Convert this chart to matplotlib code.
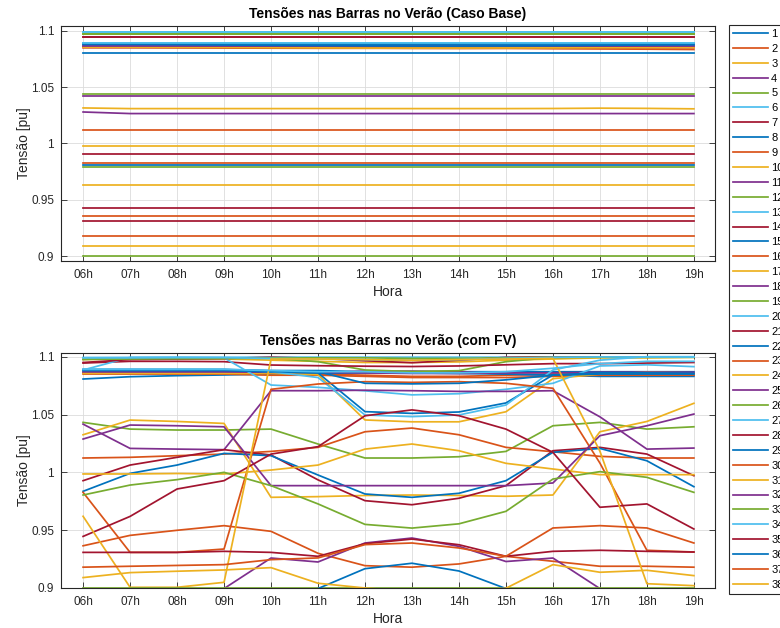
import matplotlib.pyplot as plt

plt.rcParams['font.family'] = ['Liberation Sans', 'DejaVu Sans']

# horas do dia e barras
hours = ['06h', '07h', '08h', '09h', '10h', '11h', '12h',
         '13h', '14h', '15h', '16h', '17h', '18h', '19h']
buses = [str(i) for i in range(1, 39)]
yticks = [0.9, 0.95, 1.0, 1.05, 1.1]
ytick_labels = ['0.9', '0.95', '1', '1.05', '1.1']

# tensoes [pu] - caso base (uma linha por barra)
v_base = [
    [1.0890, 1.0890, 1.0889, 1.0888, 1.0887, 1.0886, 1.0885, 1.0885, 1.0885, 1.0886, 1.0887, 1.0888, 1.0888, 1.0888],
    [1.0860, 1.0860, 1.0858, 1.0855, 1.0852, 1.0850, 1.0848, 1.0846, 1.0845, 1.0845, 1.0842, 1.0840, 1.0838, 1.0835],
    [1.0976, 1.0976, 1.0976, 1.0976, 1.0976, 1.0976, 1.0975, 1.0975, 1.0975, 1.0975, 1.0976, 1.0976, 1.0976, 1.0976],
    [1.0865, 1.0865, 1.0864, 1.0863, 1.0862, 1.0860, 1.0860, 1.0860, 1.0860, 1.0861, 1.0862, 1.0863, 1.0864, 1.0865],
    [1.0977, 1.0977, 1.0977, 1.0977, 1.0977, 1.0977, 1.0977, 1.0977, 1.0977, 1.0977, 1.0977, 1.0977, 1.0977, 1.0977],
    [1.0993, 1.0993, 1.0993, 1.0993, 1.0993, 1.0993, 1.0993, 1.0993, 1.0993, 1.0993, 1.0993, 1.0993, 1.0993, 1.0993],
    [1.0950, 1.0950, 1.0950, 1.0950, 1.0950, 1.0950, 1.0950, 1.0950, 1.0950, 1.0950, 1.0950, 1.0950, 1.0950, 1.0950],
    [1.0807, 1.0807, 1.0807, 1.0807, 1.0807, 1.0807, 1.0807, 1.0807, 1.0807, 1.0807, 1.0807, 1.0807, 1.0807, 1.0807],
    [1.0850, 1.0850, 1.0849, 1.0848, 1.0847, 1.0846, 1.0846, 1.0846, 1.0846, 1.0847, 1.0848, 1.0849, 1.0850, 1.0850],
    [1.0856, 1.0856, 1.0855, 1.0854, 1.0852, 1.0850, 1.0848, 1.0848, 1.0848, 1.0849, 1.0850, 1.0852, 1.0853, 1.0854],
    [1.0870, 1.0870, 1.0870, 1.0870, 1.0870, 1.0870, 1.0870, 1.0870, 1.0870, 1.0870, 1.0870, 1.0870, 1.0870, 1.0870],
    [1.0440, 1.0440, 1.0440, 1.0440, 1.0440, 1.0440, 1.0440, 1.0440, 1.0440, 1.0440, 1.0440, 1.0440, 1.0440, 1.0440],
    [1.0893, 1.0893, 1.0893, 1.0893, 1.0893, 1.0893, 1.0893, 1.0893, 1.0893, 1.0893, 1.0893, 1.0893, 1.0893, 1.0893],
    [1.0950, 1.0950, 1.0950, 1.0950, 1.0950, 1.0950, 1.0950, 1.0950, 1.0950, 1.0950, 1.0950, 1.0950, 1.0950, 1.0950],
    [1.0880, 1.0880, 1.0878, 1.0875, 1.0872, 1.0870, 1.0868, 1.0866, 1.0866, 1.0867, 1.0869, 1.0872, 1.0875, 1.0877],
    [1.0117, 1.0117, 1.0117, 1.0117, 1.0117, 1.0117, 1.0117, 1.0117, 1.0117, 1.0117, 1.0117, 1.0117, 1.0117, 1.0117],
    [1.0316, 1.0310, 1.0310, 1.0310, 1.0310, 1.0310, 1.0310, 1.0310, 1.0310, 1.0310, 1.0311, 1.0314, 1.0312, 1.0308],
    [1.0420, 1.0420, 1.0420, 1.0420, 1.0420, 1.0420, 1.0420, 1.0420, 1.0420, 1.0420, 1.0420, 1.0420, 1.0420, 1.0420],
    [1.0977, 1.0977, 1.0977, 1.0977, 1.0977, 1.0977, 1.0977, 1.0977, 1.0977, 1.0977, 1.0977, 1.0977, 1.0977, 1.0977],
    [1.0890, 1.0890, 1.0890, 1.0890, 1.0890, 1.0890, 1.0890, 1.0890, 1.0890, 1.0890, 1.0890, 1.0890, 1.0890, 1.0890],
    [0.9910, 0.9910, 0.9910, 0.9910, 0.9910, 0.9910, 0.9910, 0.9910, 0.9910, 0.9910, 0.9910, 0.9910, 0.9910, 0.9910],
    [0.9810, 0.9810, 0.9810, 0.9810, 0.9810, 0.9810, 0.9810, 0.9810, 0.9810, 0.9810, 0.9810, 0.9810, 0.9810, 0.9810],
    [0.9830, 0.9830, 0.9830, 0.9830, 0.9830, 0.9830, 0.9830, 0.9830, 0.9830, 0.9830, 0.9830, 0.9830, 0.9830, 0.9830],
    [0.9978, 0.9978, 0.9978, 0.9978, 0.9978, 0.9978, 0.9978, 0.9978, 0.9978, 0.9978, 0.9978, 0.9978, 0.9978, 0.9978],
    [1.0280, 1.0266, 1.0266, 1.0266, 1.0266, 1.0266, 1.0266, 1.0266, 1.0266, 1.0266, 1.0266, 1.0266, 1.0266, 1.0266],
    [0.9790, 0.9790, 0.9790, 0.9790, 0.9790, 0.9790, 0.9790, 0.9790, 0.9790, 0.9790, 0.9790, 0.9790, 0.9790, 0.9790],
    [1.0990, 1.0990, 1.0990, 1.0990, 1.0990, 1.0990, 1.0990, 1.0990, 1.0990, 1.0990, 1.0990, 1.0990, 1.0990, 1.0990],
    [0.9430, 0.9430, 0.9430, 0.9430, 0.9430, 0.9430, 0.9430, 0.9430, 0.9430, 0.9430, 0.9430, 0.9430, 0.9430, 0.9430],
    [1.0885, 1.0885, 1.0885, 1.0885, 1.0885, 1.0885, 1.0885, 1.0885, 1.0885, 1.0885, 1.0885, 1.0885, 1.0885, 1.0885],
    [0.9360, 0.9360, 0.9360, 0.9360, 0.9360, 0.9360, 0.9360, 0.9360, 0.9360, 0.9360, 0.9360, 0.9360, 0.9360, 0.9360],
    [0.9630, 0.9630, 0.9630, 0.9630, 0.9630, 0.9630, 0.9630, 0.9630, 0.9630, 0.9630, 0.9630, 0.9630, 0.9630, 0.9630],
    [0.8850, 0.8850, 0.8850, 0.8850, 0.8850, 0.8850, 0.8850, 0.8850, 0.8850, 0.8850, 0.8850, 0.8850, 0.8850, 0.8850],
    [0.9000, 0.9000, 0.9000, 0.9000, 0.9000, 0.9000, 0.9000, 0.9000, 0.9000, 0.9000, 0.9000, 0.9000, 0.9000, 0.9000],
    [1.0890, 1.0890, 1.0890, 1.0890, 1.0890, 1.0890, 1.0890, 1.0890, 1.0890, 1.0890, 1.0890, 1.0890, 1.0890, 1.0890],
    [0.9310, 0.9310, 0.9310, 0.9310, 0.9310, 0.9310, 0.9310, 0.9310, 0.9310, 0.9310, 0.9310, 0.9310, 0.9310, 0.9310],
    [0.8850, 0.8850, 0.8850, 0.8850, 0.8850, 0.8850, 0.8850, 0.8850, 0.8850, 0.8850, 0.8850, 0.8850, 0.8850, 0.8850],
    [0.9180, 0.9180, 0.9180, 0.9180, 0.9180, 0.9180, 0.9180, 0.9180, 0.9180, 0.9180, 0.9180, 0.9180, 0.9180, 0.9180],
    [0.9090, 0.9090, 0.9090, 0.9090, 0.9090, 0.9090, 0.9090, 0.9090, 0.9090, 0.9090, 0.9090, 0.9090, 0.9090, 0.9090],
]

# tensoes [pu] - com geracao fotovoltaica
v_fv = [
    [1.0890, 1.0890, 1.0890, 1.0890, 1.0880, 1.0880, 1.0870, 1.0870, 1.0870, 1.0870, 1.0870, 1.0870, 1.0870, 1.0870],
    [1.0860, 1.0860, 1.0860, 1.0860, 1.0850, 1.0850, 1.0840, 1.0830, 1.0830, 1.0840, 1.0850, 1.0850, 1.0840, 1.0840],
    [1.0976, 1.0980, 1.0980, 1.0980, 1.0970, 1.0960, 1.0950, 1.0950, 1.0955, 1.0970, 1.0980, 1.0990, 1.0990, 1.0995],
    [1.0865, 1.0865, 1.0865, 1.0865, 1.0860, 1.0860, 1.0875, 1.0875, 1.0870, 1.0850, 1.0840, 1.0860, 1.0860, 1.0860],
    [1.0977, 1.0986, 1.0986, 1.0986, 1.0986, 1.0957, 1.0885, 1.0872, 1.0879, 1.0957, 1.0994, 1.0996, 1.0996, 1.0996],
    [1.0993, 1.0994, 1.0995, 1.0995, 1.0996, 1.0996, 1.0996, 1.0996, 1.0996, 1.0996, 1.0996, 1.0997, 1.0997, 1.0997],
    [1.0945, 1.0960, 1.0960, 1.0957, 1.0928, 1.0922, 1.0918, 1.0915, 1.0920, 1.0930, 1.0940, 1.0940, 1.0945, 1.0950],
    [1.0807, 1.0827, 1.0836, 1.0842, 1.0850, 1.0856, 1.0860, 1.0860, 1.0855, 1.0850, 1.0840, 1.0830, 1.0830, 1.0830],
    [1.0850, 1.0850, 1.0850, 1.0850, 1.0840, 1.0840, 1.0830, 1.0820, 1.0820, 1.0820, 1.0830, 1.0840, 1.0840, 1.0840],
    [1.0856, 1.0856, 1.0856, 1.0856, 1.0856, 1.0845, 1.0453, 1.0437, 1.0437, 1.0524, 1.0810, 1.0850, 1.0865, 1.0860],
    [1.0870, 1.0870, 1.0870, 1.0870, 1.0865, 1.0865, 1.0860, 1.0855, 1.0855, 1.0860, 1.0860, 1.0865, 1.0865, 1.0865],
    [1.0432, 1.0374, 1.0366, 1.0366, 1.0374, 1.0245, 1.0124, 1.0124, 1.0135, 1.0181, 1.0403, 1.0432, 1.0374, 1.0394],
    [1.0885, 1.0994, 1.0994, 1.0990, 1.0755, 1.0735, 1.0705, 1.0670, 1.0680, 1.0718, 1.0770, 1.0920, 1.0930, 1.0914],
    [1.0950, 1.0975, 1.0980, 1.0985, 1.0995, 1.0986, 1.0965, 1.0948, 1.0970, 1.0994, 1.0998, 1.0998, 1.0998, 1.0998],
    [1.0880, 1.0880, 1.0880, 1.0880, 1.0870, 1.0860, 1.0525, 1.0510, 1.0522, 1.0600, 1.0842, 1.0860, 1.0860, 1.0856],
    [1.0124, 1.0130, 1.0144, 1.0158, 1.0181, 1.0216, 1.0351, 1.0383, 1.0325, 1.0216, 1.0178, 1.0138, 1.0124, 1.0124],
    [1.0325, 1.0452, 1.0440, 1.0423, 0.9784, 0.9790, 0.9800, 0.9804, 0.9800, 0.9793, 0.9804, 1.0351, 1.0440, 1.0597],
    [1.0417, 1.0207, 1.0201, 1.0196, 1.0706, 1.0706, 1.0710, 1.0706, 1.0700, 1.0700, 1.0706, 1.0480, 1.0201, 1.0210],
    [1.0977, 1.0980, 1.0982, 1.0985, 1.0990, 1.0990, 1.0990, 1.0985, 1.0985, 1.0990, 1.0995, 1.0995, 1.0995, 1.0995],
    [1.0890, 1.0890, 1.0890, 1.0890, 1.0870, 1.0820, 1.0496, 1.0482, 1.0496, 1.0582, 1.0885, 1.0970, 1.1000, 1.1000],
    [0.9928, 1.0063, 1.0130, 1.0196, 1.0150, 0.9935, 0.9755, 0.9720, 0.9776, 0.9885, 1.0187, 1.0216, 1.0158, 0.9971],
    [0.9836, 0.9991, 1.0063, 1.0164, 1.0144, 0.9977, 0.9813, 0.9784, 0.9819, 0.9928, 1.0173, 1.0207, 1.0100, 0.9876],
    [0.9827, 0.9308, 0.9308, 0.9337, 1.0718, 1.0764, 1.0784, 1.0778, 1.0784, 1.0770, 1.0727, 1.0080, 0.9326, 0.9311],
    [0.9986, 0.9986, 0.9990, 0.9986, 1.0020, 1.0063, 1.0201, 1.0245, 1.0187, 1.0078, 1.0029, 0.9980, 0.9980, 0.9980],
    [1.0288, 1.0409, 1.0403, 1.0394, 0.9885, 0.9885, 0.9885, 0.9885, 0.9885, 0.9885, 0.9908, 1.0317, 1.0403, 1.0504],
    [0.9804, 0.9890, 0.9937, 1.0000, 0.9885, 0.9727, 0.9550, 0.9518, 0.9555, 0.9663, 0.9942, 1.0006, 0.9957, 0.9827],
    [1.0990, 1.0990, 1.0992, 1.0992, 1.0985, 1.0980, 1.0975, 1.0970, 1.0975, 1.0985, 1.0995, 1.0998, 1.0998, 1.0998],
    [0.9446, 0.9619, 0.9856, 0.9928, 1.0158, 1.0222, 1.0489, 1.0540, 1.0490, 1.0374, 1.0173, 0.9698, 0.9727, 0.9510],
    [1.0885, 1.0885, 1.0885, 1.0885, 1.0870, 1.0870, 1.0770, 1.0765, 1.0770, 1.0800, 1.0840, 1.0850, 1.0850, 1.0850],
    [0.9365, 0.9455, 0.9499, 0.9539, 0.9490, 0.9300, 0.9193, 0.9180, 0.9208, 0.9274, 0.9231, 0.9188, 0.9188, 0.9180],
    [0.9620, 0.9006, 0.9006, 0.9049, 1.0980, 1.0980, 1.0975, 1.0970, 1.0975, 1.0980, 1.0985, 1.0183, 0.9037, 0.9020],
    [0.8850, 0.8850, 0.8850, 0.8995, 0.9259, 0.9225, 0.9389, 0.9432, 0.9360, 0.9229, 0.9259, 0.8995, 0.8850, 0.8850],
    [0.9002, 0.9002, 0.9002, 0.9002, 0.9002, 0.9002, 0.9002, 0.9002, 0.9002, 0.9002, 0.9002, 0.9002, 0.9002, 0.9002],
    [1.0890, 1.0890, 1.0890, 1.0890, 1.0880, 1.0870, 1.0870, 1.0860, 1.0860, 1.0870, 1.0900, 1.0940, 1.0960, 1.0960],
    [0.9308, 0.9308, 0.9308, 0.9317, 0.9308, 0.9274, 0.9383, 0.9423, 0.9374, 0.9274, 0.9317, 0.9326, 0.9317, 0.9311],
    [0.8850, 0.8850, 0.8850, 0.8850, 0.8900, 0.8995, 0.9167, 0.9214, 0.9147, 0.8995, 0.8900, 0.8850, 0.8850, 0.8850],
    [0.9180, 0.9188, 0.9195, 0.9202, 0.9245, 0.9260, 0.9375, 0.9389, 0.9346, 0.9274, 0.9519, 0.9539, 0.9519, 0.9389],
    [0.9090, 0.9133, 0.9145, 0.9156, 0.9176, 0.9041, 0.9000, 0.8970, 0.8970, 0.8998, 0.9202, 0.9136, 0.9153, 0.9107],
]

# ordem de cores padrao do MATLAB
colors = ['#0072BD', '#D95319', '#EDB120', '#7E2F8E',
          '#77AC30', '#4DBEEE', '#A2142F']
axis_gray = '#262626'


def draw_panel(ax, data, title, ylim):
    x = list(range(len(hours)))
    for i, serie in enumerate(data):
        ax.plot(x, serie, color=colors[i % len(colors)], lw=1.25, label=buses[i])
    ax.set_xlim(-0.47, 13.45)
    ax.set_ylim(*ylim)
    ax.set_xticks(x)
    ax.set_xticklabels(hours)
    ax.set_yticks(yticks)
    ax.set_yticklabels(ytick_labels)
    ax.grid(True, color='#dcdcdc', lw=0.6)
    ax.set_axisbelow(True)
    ax.tick_params(direction='in', length=4.5, width=0.6, top=True, right=True,
                   labelsize=8.5, colors=axis_gray)
    ax.tick_params(axis='x', pad=6)
    ax.tick_params(axis='y', pad=5)
    for s in ax.spines.values():
        s.set_color(axis_gray)
        s.set_linewidth(0.8)
    ax.set_title(title, fontsize=10, fontweight='bold', pad=6)
    ax.set_xlabel('Hora', fontsize=10, color=axis_gray, labelpad=3)
    ax.set_ylabel('Tensão [pu]', fontsize=10, color=axis_gray, labelpad=0)


fig = plt.figure(figsize=(7.8, 6.28), dpi=100)
ax1 = fig.add_axes([0.0782, 0.5844, 0.8385, 0.3742])
ax2 = fig.add_axes([0.0782, 0.0637, 0.8385, 0.3742])

draw_panel(ax1, v_base, 'Tensões nas Barras no Verão (Caso Base)', (0.8956, 1.1044))
draw_panel(ax2, v_fv, 'Tensões nas Barras no Verão (com FV)', (0.9, 1.1032))

# legenda com as 38 barras, cortada na borda direita como no original
leg = ax1.legend(loc='upper left', bbox_to_anchor=(729 / 780, 1 - 25 / 628),
                 bbox_transform=fig.transFigure, fontsize=8, frameon=True,
                 fancybox=False, framealpha=1, edgecolor=axis_gray,
                 borderpad=0.35, labelspacing=0.44, handlelength=3.2,
                 handletextpad=0.25, borderaxespad=0)
leg.get_frame().set_linewidth(0.8)

fig.savefig('out.png', dpi=100)
